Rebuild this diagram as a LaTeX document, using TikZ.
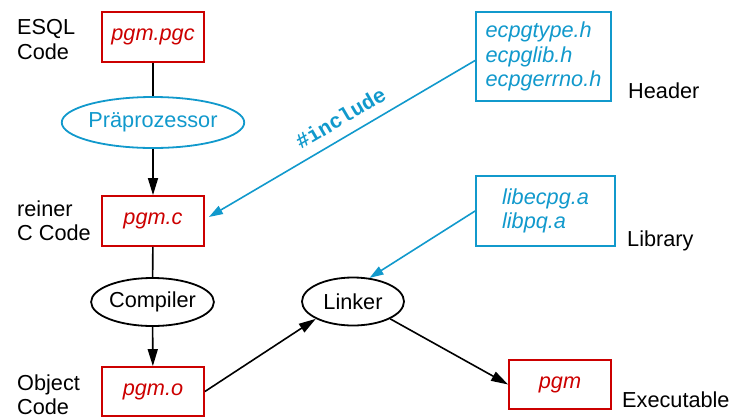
\documentclass[tikz,border=0pt]{standalone}
\usepackage{fontspec}
\setmainfont{Liberation Sans}
\setmonofont{Liberation Mono}
\usetikzlibrary{shapes.geometric,arrows.meta}
\definecolor{cred}{RGB}{204,0,0}
\definecolor{cblue}{RGB}{17,153,204}
\begin{document}
\begin{tikzpicture}[x=1pt,y=-1pt,
  every node/.style={font=\fontsize{21.7pt}{24.5pt}\selectfont},
  file/.style={draw=cred,line width=1.8pt,text=cred,font=\fontsize{21.7pt}{24.5pt}\selectfont\itshape,minimum width=102pt,minimum height=50pt,inner sep=0pt},
  src/.style={draw=cblue,line width=1.8pt,text=cblue,font=\fontsize{21.7pt}{24.5pt}\selectfont\itshape,align=left,inner sep=0pt},
  proc/.style={ellipse,draw,line width=1.8pt,inner sep=0pt},
  lbl/.style={inner sep=0pt,align=left},
  flow/.style={line width=1.6pt,-{Triangle[length=17pt,width=10pt]}},
  plain/.style={line width=1.6pt},
  bflow/.style={cblue,line width=1.6pt,-{Triangle[length=14pt,width=9pt]}},
  inc/.style={text=cblue,font=\fontsize{21pt}{22pt}\selectfont\ttfamily\bfseries}
]
\useasboundingbox (0,0) rectangle (731,416);

\node[file] (pgc) at (153,37) {pgm.pgc};
\node[proc,draw=cblue,text=cblue,minimum width=150pt,minimum height=51pt] (pre) at (153,122.5) {Präprozessor};
\node[file] (pgmc) at (153,221) {pgm.c};
\node[proc,minimum width=109pt,minimum height=48pt] (comp) at (152.5,302) {Compiler};
\node[proc,minimum width=102pt,minimum height=48pt] (lnk) at (353,301.5) {Linker};
\node[file,minimum height=49pt] (pgmo) at (153,391.5) {pgm.o};
\node[file,minimum height=49pt] (pgm) at (560,384.5) {pgm};
\node[src,minimum width=135pt,minimum height=89pt] (hdr) at (543.5,56.5) {ecpgtype.h\\ecpglib.h\\ecpgerrno.h};
\node[src,minimum width=139pt,minimum height=70pt] (lib) at (545.5,211) {libecpg.a\\libpq.a};

\node[lbl,anchor=north west] (t1) at (17,19.5) {ESQL\\Code};
\node[lbl,anchor=north west] (t2) at (17,200.5) {reiner\\C Code};
\node[lbl,anchor=north west] (t3) at (17,374.5) {Object\\Code};
\node[lbl,anchor=base west] (t4) at (628,98) {Header};
\node[lbl,anchor=base west] (t5) at (627,246) {Library};
\node[lbl,anchor=base west] (t6) at (622,407) {Executable};

\draw[plain] (pgc) -- (pre);
\draw[flow] (pre) -- (pgmc);
\draw[plain] (pgmc) -- (comp);
\draw[flow] (comp) -- (pgmo);
\draw[flow] (pgmo.east) -- (lnk.205);
\draw[flow] (lnk.-25) -- (pgm.west);
\draw[bflow] (lib.west) -- (lnk.55);
\draw[bflow] ([yshift=-4pt]hdr.west) -- node[inc,sloped,above=7pt,pos=0.47] (incl) {\#include} ([xshift=4pt,yshift=4pt]pgmc.east);
\end{tikzpicture}
\end{document}
